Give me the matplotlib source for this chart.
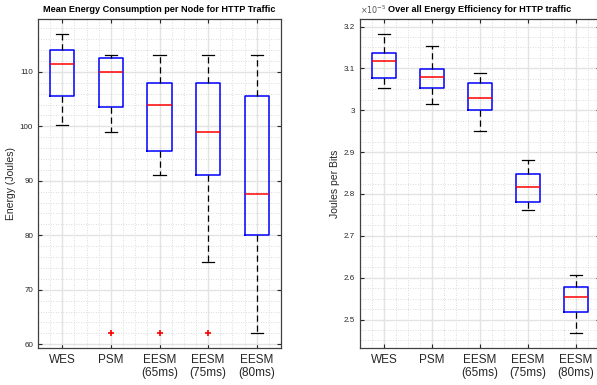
"""Boxplots: mean energy per node and overall energy efficiency for HTTP traffic."""
import matplotlib
matplotlib.use("Agg")
import matplotlib.pyplot as plt
from matplotlib.ticker import MultipleLocator, FormatStrFormatter

plt.rcParams["font.family"] = ["Liberation Sans", "DejaVu Sans"]

labels = ["WES", "PSM", "EESM\n(65ms)", "EESM\n(75ms)", "EESM\n(80ms)"]

# Mean energy per node (Joules): whisker low, q1, median, q3, whisker high
energy_wlo = [100.2, 99.0, 91.0, 75.0, 62.0]
energy_q1 = [105.5, 103.5, 95.5, 91.0, 80.0]
energy_med = [111.5, 110.0, 104.0, 99.0, 87.5]
energy_q3 = [114.0, 112.5, 108.0, 108.0, 105.5]
energy_whi = [117.0, 113.0, 113.0, 113.0, 113.0]
energy_fliers = [[], [62.0], [62.0], [62.0], []]

# Energy efficiency (Joules per bit, x 1e-5)
eff_wlo = [3.052, 3.014, 2.950, 2.762, 2.467]
eff_q1 = [3.077, 3.054, 3.000, 2.781, 2.517]
eff_med = [3.117, 3.079, 3.029, 2.817, 2.553]
eff_q3 = [3.137, 3.098, 3.064, 2.847, 2.578]
eff_whi = [3.182, 3.154, 3.090, 2.881, 2.607]
eff_fliers = [[], [], [], [], []]


def make_stats(wlo, q1, med, q3, whi, fliers):
    return [dict(whislo=a, q1=b, med=c, q3=d, whishi=e, fliers=f, label="")
            for a, b, c, d, e, f in zip(wlo, q1, med, q3, whi, fliers)]


tick_color = "#262626"


def style_axes(ax, title, ylabel):
    ax.set_xlim(0.5, 5.5)
    ax.set_xticks(range(1, 6))
    ax.set_xticklabels(labels, fontsize=8.5, color=tick_color)
    ax.xaxis.set_minor_locator(MultipleLocator(0.25))
    ax.tick_params(which="both", direction="in", top=True, right=True,
                   colors=tick_color)
    ax.tick_params(which="major", length=3, width=0.8, labelsize=5.8)
    ax.tick_params(axis="x", which="major", labelsize=8.5, pad=4)
    ax.tick_params(which="minor", length=0)
    ax.grid(True, which="major", color="#e3e3e3", linewidth=1.0)
    ax.grid(True, which="minor", color="#d0d0d0", linestyle=(0, (1, 2)),
            linewidth=0.6)
    ax.set_axisbelow(True)
    for s in ax.spines.values():
        s.set_color("#404040")
        s.set_linewidth(0.9)
    ax.set_title(title, fontsize=6.6, fontweight="bold", pad=5)
    ax.set_ylabel(ylabel, fontsize=7.5, color=tick_color)


box_kw = dict(
    widths=0.5, capwidths=0.25, showfliers=True,
    boxprops=dict(color="blue", linewidth=1.1),
    medianprops=dict(color="red", linewidth=1.1),
    whiskerprops=dict(color="black", linewidth=0.9, linestyle=(0, (5, 3))),
    capprops=dict(color="black", linewidth=0.9),
    flierprops=dict(marker="+", markeredgecolor="red", markersize=4.5,
                    markeredgewidth=1.2, linestyle="none"),
)

fig = plt.figure(figsize=(5.97, 3.85), dpi=100)

ax1 = fig.add_axes([38 / 597, 37 / 385, 243 / 597, 329 / 385])
ax1.bxp(make_stats(energy_wlo, energy_q1, energy_med, energy_q3, energy_whi,
                   energy_fliers), **box_kw)
ax1.set_ylim(59.3, 119.7)
ax1.yaxis.set_major_locator(MultipleLocator(10))
ax1.yaxis.set_minor_locator(MultipleLocator(2))
ax1.yaxis.set_major_formatter(FormatStrFormatter("%g"))
style_axes(ax1, "Mean Energy Consumption per Node for HTTP Traffic",
           "Energy (Joules)")
ax1.yaxis.labelpad = 3

ax2 = fig.add_axes([360 / 597, 37 / 385, 240 / 597, 329 / 385])
ax2.bxp(make_stats(eff_wlo, eff_q1, eff_med, eff_q3, eff_whi, eff_fliers),
        **box_kw)
ax2.set_ylim(2.432, 3.218)
ax2.yaxis.set_major_locator(MultipleLocator(0.1))
ax2.yaxis.set_minor_locator(MultipleLocator(0.025))
ax2.yaxis.set_major_formatter(FormatStrFormatter("%g"))
style_axes(ax2, "Over all Energy Efficiency for HTTP traffic", "Joules per Bits")
ax2.yaxis.labelpad = 3
ax2.text(0.0, 1.008, r"$\times10^{-5}$", transform=ax2.transAxes,
         fontsize=5.8, color="#555555", ha="left", va="bottom")

fig.savefig("out.png", dpi=100)
